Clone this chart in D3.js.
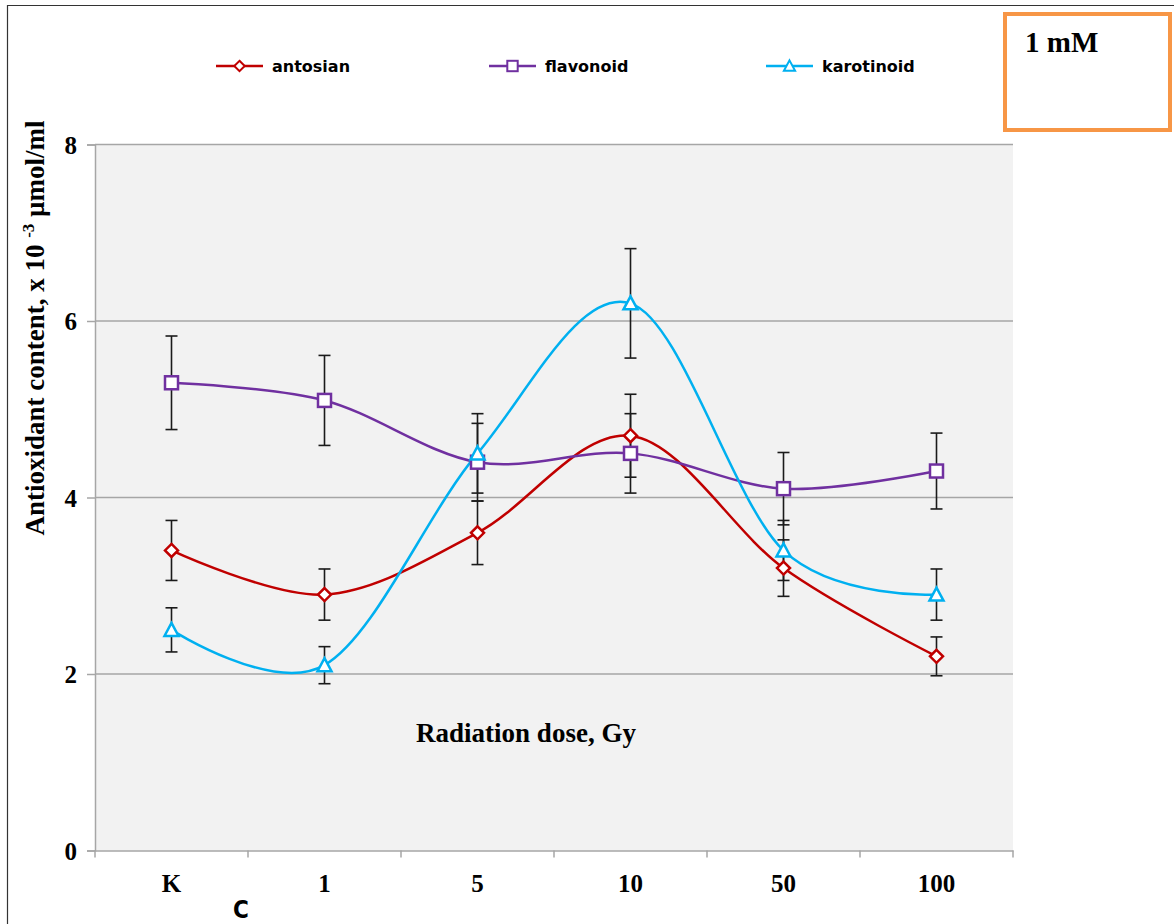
<!DOCTYPE html>
<html>
<head>
<meta charset="utf-8">
<script src="https://cdn.jsdelivr.net/npm/d3@7"></script>
<style>
  html, body { margin: 0; padding: 0; background: #ffffff; }
  svg { display: block; }
</style>
</head>
<body>
<svg id="chart" width="1174" height="924"></svg>
<script>
// ---- data ----
const categories = ["K", "1", "5", "10", "50", "100"];
const antosian = [3.4, 2.9, 3.6, 4.7, 3.2, 2.2];
const antosianErr = [0.34, 0.29, 0.36, 0.47, 0.32, 0.22];
const flavonoid = [5.3, 5.1, 4.4, 4.5, 4.1, 4.3];
const flavonoidErr = [0.53, 0.51, 0.44, 0.45, 0.41, 0.43];
const karotinoid = [2.5, 2.1, 4.5, 6.2, 3.4, 2.9];
const karotinoidErr = [0.25, 0.21, 0.45, 0.62, 0.34, 0.29];
const yTicks = [0, 2, 4, 6, 8];
const seriesNames = ["antosian", "flavonoid", "karotinoid"];

const series = [
  { name: seriesNames[0], values: antosian, err: antosianErr, color: "#c00000", marker: "diamond" },
  { name: seriesNames[1], values: flavonoid, err: flavonoidErr, color: "#7030a0", marker: "square" },
  { name: seriesNames[2], values: karotinoid, err: karotinoidErr, color: "#00b0f0", marker: "triangle" }
];

const serif = "'Liberation Serif', 'Times New Roman', serif";
const svg = d3.select("#chart");

// outer frame
svg.append("line").attr("x1", 7).attr("x2", 1174).attr("y1", 5.5).attr("y2", 5.5)
  .attr("stroke", "#333").attr("stroke-width", 1.2);
svg.append("line").attr("x1", 7.5).attr("x2", 7.5).attr("y1", 5).attr("y2", 924)
  .attr("stroke", "#333").attr("stroke-width", 1.2);

const plot = { left: 95, right: 1013, top: 144.5, bottom: 850.5 };

const x = d3.scaleBand().domain(categories).range([plot.left, plot.right]);
const y = d3.scaleLinear().domain([0, 8]).range([plot.bottom, plot.top]);

// plot background
svg.append("rect")
  .attr("x", plot.left).attr("y", plot.top)
  .attr("width", plot.right - plot.left).attr("height", plot.bottom - plot.top)
  .attr("fill", "#f2f2f2");

// gridlines
svg.append("g").selectAll("line").data(yTicks.filter(d => d > 0)).join("line")
  .attr("x1", plot.left).attr("x2", plot.right)
  .attr("y1", d => y(d)).attr("y2", d => y(d))
  .attr("stroke", "#a6a6a6").attr("stroke-width", 1.5);

// y axis
const yAxis = svg.append("g").attr("transform", `translate(${plot.left},0)`)
  .call(d3.axisLeft(y).tickValues(yTicks).tickSize(8).tickFormat(d3.format("d")));
yAxis.select(".domain").attr("stroke", "#a6a6a6").attr("stroke-width", 1.5);
yAxis.selectAll(".tick line").attr("stroke", "#a6a6a6").attr("stroke-width", 1.5);
yAxis.selectAll(".tick text")
  .attr("x", -18).attr("dy", "0.34em")
  .attr("font-family", serif)
  .attr("font-weight", "bold").attr("font-size", 25).attr("fill", "#000");

// x axis
const xAxis = svg.append("g").attr("transform", `translate(0,${plot.bottom})`)
  .call(d3.axisBottom(x).tickSize(0).tickPadding(0));
xAxis.select(".domain").attr("stroke", "#a6a6a6").attr("stroke-width", 1.5);
xAxis.selectAll(".tick text")
  .attr("y", 41).attr("dy", 0)
  .attr("font-family", serif)
  .attr("font-weight", "bold").attr("font-size", 25).attr("fill", "#000");
// category boundary ticks
const boundaries = categories.map(c => x(c)).concat([x(categories[categories.length - 1]) + x.bandwidth()]);
svg.append("g").selectAll("line").data(boundaries).join("line")
  .attr("x1", d => d).attr("x2", d => d)
  .attr("y1", plot.bottom).attr("y2", plot.bottom + 7)
  .attr("stroke", "#a6a6a6").attr("stroke-width", 1.5);

// extra "C" label
svg.append("text").attr("x", 241).attr("y", 918).attr("text-anchor", "middle")
  .attr("font-family", "'Liberation Sans Narrow', 'DejaVu Sans Condensed', sans-serif")
  .attr("font-weight", "bold").attr("font-size", 24).attr("fill", "#000").text("C");

// x axis title inside plot
svg.append("text").attr("x", 526).attr("y", 742).attr("text-anchor", "middle")
  .attr("font-family", serif)
  .attr("font-weight", "bold").attr("font-size", 27).attr("fill", "#000")
  .text("Radiation dose, Gy");

// y axis title
const yt = svg.append("text")
  .attr("transform", "translate(44,328) rotate(-90)")
  .attr("text-anchor", "middle")
  .attr("font-family", serif)
  .attr("font-weight", "bold").attr("font-size", 27).attr("fill", "#000");
yt.append("tspan").text("Antioxidant  content, x 10 ");
yt.append("tspan").attr("dy", -10).attr("font-size", 17).text("-3");
yt.append("tspan").attr("dy", 10).text(" µmol/ml");

// lines
const cx = c => x(c) + x.bandwidth() / 2;
const lineGen = d3.line()
  .x((d, i) => cx(categories[i]))
  .y(d => y(d))
  .curve(d3.curveCardinal.tension(0));

series.forEach(s => {
  svg.append("path").datum(s.values)
    .attr("d", lineGen)
    .attr("fill", "none").attr("stroke", s.color).attr("stroke-width", 2.5);
});

// error bars
series.forEach(s => {
  const g = svg.append("g").attr("stroke", "#1a1a1a").attr("stroke-width", 1.6);
  s.values.forEach((v, i) => {
    const px = cx(categories[i]);
    const hi = y(v + s.err[i]), lo = y(v - s.err[i]);
    g.append("line").attr("x1", px).attr("x2", px).attr("y1", hi).attr("y2", lo);
    g.append("line").attr("x1", px - 6).attr("x2", px + 6).attr("y1", hi).attr("y2", hi);
    g.append("line").attr("x1", px - 6).attr("x2", px + 6).attr("y1", lo).attr("y2", lo);
  });
});

// markers
function drawMarker(g, type, px, py, color) {
  if (type === "diamond") {
    g.append("path").attr("d", `M${px},${py - 6.5}L${px + 6.5},${py}L${px},${py + 6.5}L${px - 6.5},${py}Z`)
      .attr("fill", "#fff").attr("stroke", color).attr("stroke-width", 2.5);
  } else if (type === "square") {
    g.append("rect").attr("x", px - 6.5).attr("y", py - 6.5).attr("width", 13).attr("height", 13)
      .attr("fill", "#fff").attr("stroke", color).attr("stroke-width", 2.5);
  } else {
    g.append("path").attr("d", `M${px},${py - 7}L${px + 7},${py + 6}L${px - 7},${py + 6}Z`)
      .attr("fill", "#fff").attr("stroke", color).attr("stroke-width", 2.5);
  }
}
series.forEach(s => {
  const g = svg.append("g");
  s.values.forEach((v, i) => drawMarker(g, s.marker, cx(categories[i]), y(v), s.color));
});

// legend
const legendX = [216, 489, 766];
series.forEach((s, i) => {
  const g = svg.append("g");
  const lx = legendX[i], ly = 66;
  g.append("line").attr("x1", lx).attr("x2", lx + 47).attr("y1", ly).attr("y2", ly)
    .attr("stroke", s.color).attr("stroke-width", 2.5);
  const mg = svg.append("g").attr("transform", `translate(${lx + 23.5},${ly}) scale(0.8)`);
  drawMarker(mg, s.marker, 0, 0, s.color);
  g.append("text").attr("x", lx + 56).attr("y", ly + 6)
    .attr("font-family", "'DejaVu Sans', sans-serif").attr("font-weight", "bold")
    .attr("font-size", 16).attr("fill", "#000").text(s.name);
});

// concentration box
svg.append("rect").attr("x", 1005).attr("y", 14).attr("width", 165).attr("height", 116)
  .attr("fill", "#fff").attr("stroke", "#f79646").attr("stroke-width", 4);
svg.append("text").attr("x", 1025).attr("y", 52)
  .attr("font-family", serif)
  .attr("font-weight", "bold").attr("font-size", 29).attr("fill", "#000").text("1 mM");
</script>
</body>
</html>
